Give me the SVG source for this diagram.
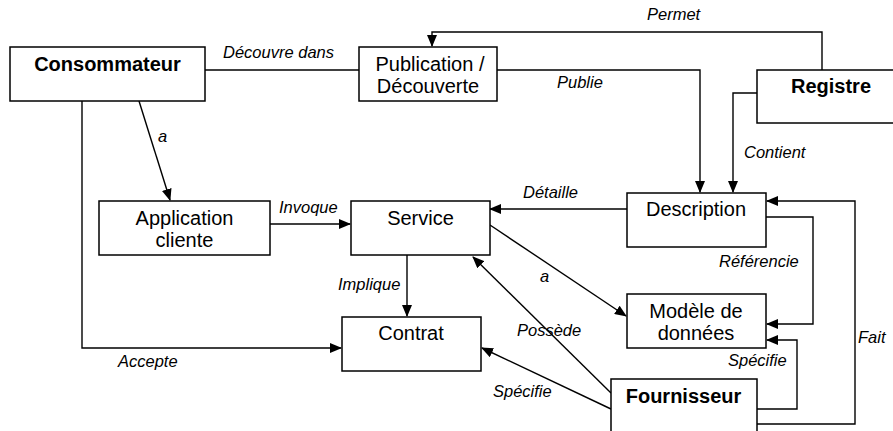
<svg xmlns="http://www.w3.org/2000/svg" width="893" height="431" viewBox="0 0 893 431">
<style>
.box{fill:#fff;stroke:#000;stroke-width:1.5}
.t{font-family:"Liberation Sans",Arial,sans-serif;font-size:20px;fill:#000;text-anchor:middle}
.b{font-weight:bold}
.l{font-family:"Liberation Sans",Arial,sans-serif;font-size:16.5px;font-style:italic;fill:#000}
.c{fill:none;stroke:#000;stroke-width:1.4}
</style>
<defs>
<marker id="ar" markerUnits="userSpaceOnUse" markerWidth="12" markerHeight="10" refX="11" refY="5" orient="auto">
<path d="M0,0 L12,5 L0,10 Z" fill="#000"/>
</marker>
</defs>
<rect width="893" height="431" fill="#fff"/>
<g id="connectors">
<path class="c" d="M822,70 V32 H432 V46" marker-end="url(#ar)"/>
<path class="c" d="M205,70 H359"/>
<path class="c" d="M497,70 H700 V192" marker-end="url(#ar)"/>
<path class="c" d="M757,93 H733 V192" marker-end="url(#ar)"/>
<path class="c" d="M627,209 H490" marker-end="url(#ar)"/>
<path class="c" d="M270,224 H350" marker-end="url(#ar)"/>
<path class="c" d="M139,101 L170,200" marker-end="url(#ar)"/>
<path class="c" d="M82,101 V348 H341" marker-end="url(#ar)"/>
<path class="c" d="M407,255 V316" marker-end="url(#ar)"/>
<path class="c" d="M490,225 L626,316" marker-end="url(#ar)"/>
<path class="c" d="M766,217 H813 V324 H767" marker-end="url(#ar)"/>
<path class="c" d="M757,409 H797 V340 H767" marker-end="url(#ar)"/>
<path class="c" d="M757,424 H855 V201 H767" marker-end="url(#ar)"/>
<path class="c" d="M611,393 L473,257" marker-end="url(#ar)"/>
<path class="c" d="M611,409 L482,348" marker-end="url(#ar)"/>
<text class="l" x="223" y="58">Découvre dans</text>
<text class="l" x="647" y="20">Permet</text>
<text class="l" x="557" y="88">Publie</text>
<text class="l" x="744" y="158">Contient</text>
<text class="l" x="523" y="198">Détaille</text>
<text class="l" x="279" y="213">Invoque</text>
<text class="l" x="158" y="142">a</text>
<text class="l" x="338" y="290">Implique</text>
<text class="l" x="540" y="282">a</text>
<text class="l" x="719" y="267">Référencie</text>
<text class="l" x="517" y="336">Possède</text>
<text class="l" x="728" y="366">Spécifie</text>
<text class="l" x="118" y="367">Accepte</text>
<text class="l" x="493" y="397">Spécifie</text>
<text class="l" x="858" y="343">Fait</text>
</g>
<g id="consommateur">
<rect class="box" x="10" y="47" width="195" height="54"/>
<text class="t b" x="107.5" y="71">Consommateur</text>
</g>
<g id="publication">
<rect class="box" x="359" y="47" width="138" height="54"/>
<text class="t" x="430" y="71">Publication /</text>
<text class="t" x="428" y="93">Découverte</text>
</g>
<g id="registre">
<rect class="box" x="757" y="70" width="145" height="53"/>
<text class="t b" x="831" y="93">Registre</text>
</g>
<g id="description">
<rect class="box" x="627" y="193" width="139" height="54"/>
<text class="t" x="696" y="216">Description</text>
</g>
<g id="application">
<rect class="box" x="99" y="201" width="171" height="54"/>
<text class="t" x="184.5" y="225">Application</text>
<text class="t" x="184.5" y="247">cliente</text>
</g>
<g id="service">
<rect class="box" x="351" y="201" width="139" height="54"/>
<text class="t" x="420.5" y="225">Service</text>
</g>
<g id="contrat">
<rect class="box" x="342" y="317" width="139" height="54"/>
<text class="t" x="411" y="340">Contrat</text>
</g>
<g id="modele">
<rect class="box" x="627" y="294" width="139" height="54"/>
<text class="t" x="696" y="318">Modèle de</text>
<text class="t" x="696" y="340">données</text>
</g>
<g id="fournisseur">
<rect class="box" x="611" y="379" width="146" height="60"/>
<text class="t b" x="683.5" y="403">Fournisseur</text>
</g>
</svg>
